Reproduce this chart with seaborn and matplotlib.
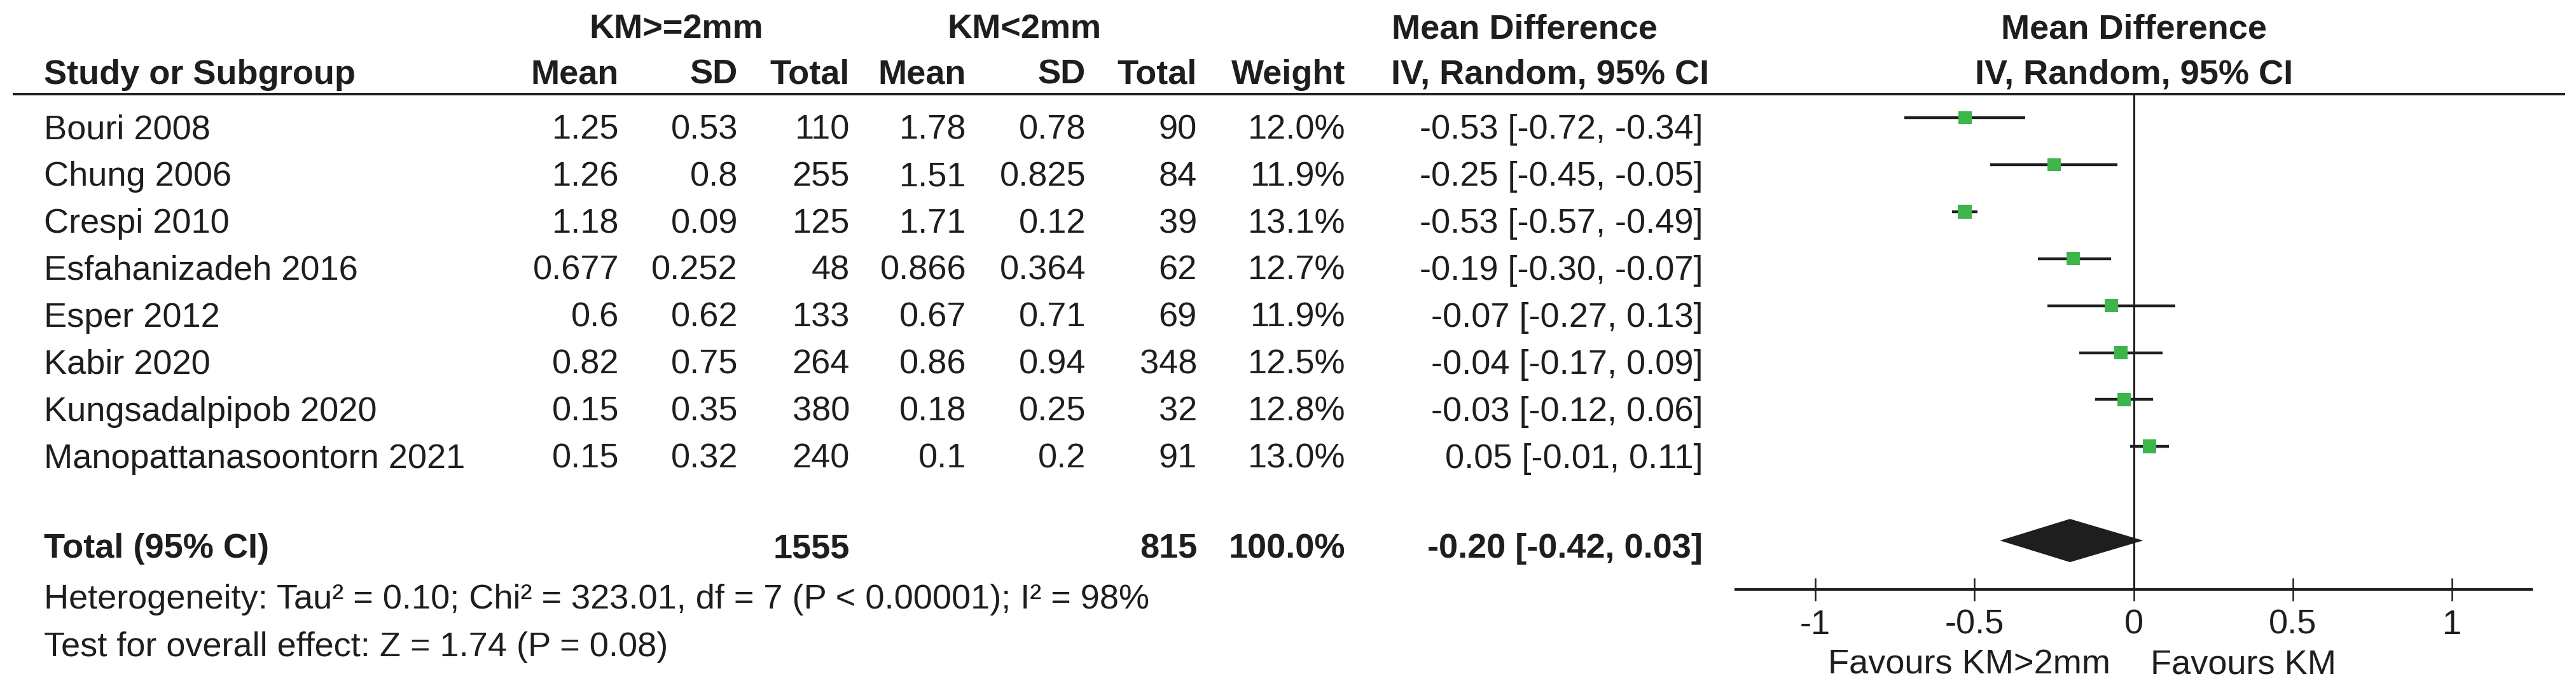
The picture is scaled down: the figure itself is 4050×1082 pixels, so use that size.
import numpy as np
import pandas as pd
import seaborn as sns
import matplotlib.pyplot as plt

# ---- data ----
studies = ["Bouri 2008", "Chung 2006", "Crespi 2010", "Esfahanizadeh 2016", "Esper 2012",
           "Kabir 2020", "Kungsadalpipob 2020", "Manopattanasoontorn 2021"]
mean_ge2 = [1.25, 1.26, 1.18, 0.677, 0.6, 0.82, 0.15, 0.15]
sd_ge2 = [0.53, 0.8, 0.09, 0.252, 0.62, 0.75, 0.35, 0.32]
n_ge2 = [110, 255, 125, 48, 133, 264, 380, 240]
mean_lt2 = [1.78, 1.51, 1.71, 0.866, 0.67, 0.86, 0.18, 0.1]
sd_lt2 = [0.78, 0.825, 0.12, 0.364, 0.71, 0.94, 0.25, 0.2]
n_lt2 = [90, 84, 39, 62, 69, 348, 32, 91]
weight = [12.0, 11.9, 13.1, 12.7, 11.9, 12.5, 12.8, 13.0]
md = [-0.53, -0.25, -0.53, -0.19, -0.07, -0.04, -0.03, 0.05]
ci_low = [-0.72, -0.45, -0.57, -0.30, -0.27, -0.17, -0.12, -0.01]
ci_high = [-0.34, -0.05, -0.49, -0.07, 0.13, 0.09, 0.06, 0.11]

total_n_ge2, total_n_lt2, total_weight = 1555, 815, 100.0
total_md, total_low, total_high = -0.20, -0.42, 0.03
het_text = "Heterogeneity: Tau² = 0.10; Chi² = 323.01, df = 7 (P < 0.00001); I² = 98%"
effect_text = "Test for overall effect: Z = 1.74 (P = 0.08)"
x_ticks = [-1, -0.5, 0, 0.5, 1]
x_tick_labels = ["-1", "-0.5", "0", "0.5", "1"]

sns.set_theme(style="white")
plt.rcParams["font.family"] = ["Liberation Sans", "DejaVu Sans"]

FS = 39
INK = "#1e1e1e"
GREEN = "#3db54a"
W, H = 4050, 1082

df = pd.DataFrame({"study": studies, "md": md, "lo": ci_low, "hi": ci_high, "weight": weight})
df["row"] = np.arange(len(df))
total_row = len(df) + 1

fig = plt.figure(figsize=(W / 100, H / 100), dpi=100)
fig.patch.set_facecolor("white")

# vertical layout in pixels from top -> row units
TOP_PX, AXIS_PX, ROW0_PX, ROW_STEP = 148, 927, 185, 73.9
y_top = (TOP_PX - ROW0_PX) / ROW_STEP
y_bot = (AXIS_PX - ROW0_PX) / ROW_STEP
rect_b = 1 - AXIS_PX / H
rect_h = (AXIS_PX - TOP_PX) / H

tab = fig.add_axes([0, rect_b, 1, rect_h], zorder=0)
tab.set_xlim(0, W)
tab.set_ylim(y_bot, y_top)
tab.axis("off")

ax = fig.add_axes([2729 / W, rect_b, (3980 - 2729) / W, rect_h], zorder=1)
ax.patch.set_alpha(0)

# ---- table ----
hdr = dict(fontsize=FS, fontweight="bold", color=INK, va="baseline")
txt = dict(fontsize=FS, color=INK, va="baseline")
H1, H2 = -1.69, -0.72

tab.text(1063, H1, "KM>=2mm", ha="center", **hdr)
tab.text(1610, H1, "KM<2mm", ha="center", **hdr)
tab.text(2397, H1, "Mean Difference", ha="center", **hdr)
tab.text(3355, H1, "Mean Difference", ha="center", **hdr)

tab.text(69, H2, "Study or Subgroup", ha="left", **hdr)
col_right = [973, 1160, 1336, 1519, 1707, 1882, 2115]
col_names = ["Mean", "SD", "Total", "Mean", "SD", "Total", "Weight"]
for x, name in zip(col_right, col_names):
    tab.text(x, H2, name, ha="right", **hdr)
tab.text(2187, H2, "IV, Random, 95% CI", ha="left", **hdr)
tab.text(3355, H2, "IV, Random, 95% CI", ha="center", **hdr)
tab.plot([20, 4033], [y_top, y_top], color=INK, lw=2.8, solid_capstyle="butt", clip_on=False)

for i, r in df.iterrows():
    y = r["row"] + 0.45
    tab.text(69, y, r["study"], ha="left", **txt)
    vals = [mean_ge2[i], sd_ge2[i], n_ge2[i], mean_lt2[i], sd_lt2[i], n_lt2[i], f"{weight[i]:.1f}%"]
    for x, v in zip(col_right, vals):
        tab.text(x, y, str(v), ha="right", **txt)
    tab.text(2677, y, f"{md[i]:.2f} [{ci_low[i]:.2f}, {ci_high[i]:.2f}]", ha="right", **txt)

yt = total_row + 0.37
tab.text(69, yt, "Total (95% CI)", ha="left", **hdr)
tab.text(1336, yt, str(total_n_ge2), ha="right", **hdr)
tab.text(1882, yt, str(total_n_lt2), ha="right", **hdr)
tab.text(2115, yt, f"{total_weight:.1f}%", ha="right", **hdr)
tab.text(2677, yt, f"{total_md:.2f} [{total_low:.2f}, {total_high:.2f}]", ha="right", **hdr)
tab.text(69, 10.45, het_text, ha="left", **txt)
tab.text(69, 11.46, effect_text, ha="left", **txt)

# ---- forest plot ----
ax.axvline(0, color=INK, lw=2.2, zorder=1)
ax.hlines(df["row"], df["lo"], df["hi"], color=INK, lw=3.2, zorder=2)
sns.scatterplot(data=df, x="md", y="row", size="weight",
                sizes={w: 225 * w / 12 for w in weight},
                marker="s", color=GREEN, edgecolor="none", linewidth=0,
                legend=False, ax=ax, zorder=3)
half_h = 0.46
ax.fill([total_low, total_md, total_high, total_md],
        [total_row, total_row - half_h, total_row, total_row + half_h],
        color=INK, lw=0, zorder=3)

ax.set_xlim(-1.25, 1.25)
ax.set_ylim(y_bot, y_top)
ax.set_xlabel("")
ax.set_ylabel("")
ax.set_yticks([])
ax.set_xticks(x_ticks)
ax.set_xticklabels(x_tick_labels)
for side in ["top", "left", "right"]:
    ax.spines[side].set_visible(False)
ax.spines["bottom"].set_color(INK)
ax.spines["bottom"].set_linewidth(3.0)
ax.tick_params(axis="x", bottom=True, direction="inout", length=26, width=1.8,
               pad=9, labelsize=FS, colors=INK)

ax.annotate("Favours KM>2mm", xy=(0, 11.84), xycoords=("data", tab.transData),
            xytext=(-26, 0), textcoords="offset points", ha="right", **txt)
ax.annotate("Favours KM", xy=(0, 11.84), xycoords=("data", tab.transData),
            xytext=(19, 0), textcoords="offset points", ha="left", **txt)

fig.savefig("out.png", dpi=100, facecolor="white")
